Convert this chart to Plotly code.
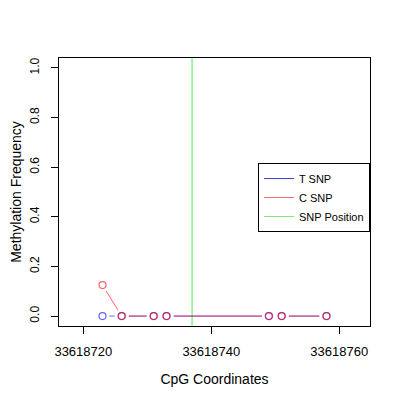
import plotly.graph_objects as go

# CpG positions and methylation frequencies
cpg_pos = [33618723, 33618726, 33618731, 33618733, 33618749, 33618751, 33618758]
t_snp = [0.0, 0.0, 0.0, 0.0, 0.0, 0.0, 0.0]
c_snp = [0.125, 0.0, 0.0, 0.0, 0.0, 0.0, 0.0]
snp_position = 33618737

x_ticks = [33618720, 33618740, 33618760]
y_ticks = [0.0, 0.2, 0.4, 0.6, 0.8, 1.0]

blue = "rgba(0,0,255,0.6)"
red = "rgba(255,0,0,0.6)"
green = "rgba(0,220,0,0.45)"

fig = go.Figure()

# SNP position line
fig.add_trace(go.Scatter(x=[snp_position, snp_position], y=[-0.04, 1.04], mode="lines",
                         line=dict(color=green, width=1.5), showlegend=False, hoverinfo="skip"))

# connecting lines (R type="b" look: gaps at the points)
fig.add_trace(go.Scatter(x=cpg_pos, y=t_snp, mode="lines", line=dict(color=blue, width=1),
                         showlegend=False))
fig.add_trace(go.Scatter(x=cpg_pos, y=c_snp, mode="lines", line=dict(color=red, width=1),
                         showlegend=False))
# white halos to cut the lines
fig.add_trace(go.Scatter(x=cpg_pos + cpg_pos, y=t_snp + c_snp, mode="markers",
                         marker=dict(color="white", size=14, line=dict(width=0)),
                         showlegend=False, hoverinfo="skip"))
fig.add_trace(go.Scatter(x=cpg_pos, y=t_snp, mode="markers",
                         marker=dict(symbol="circle-open", color=blue, size=7, line=dict(width=1.2)),
                         showlegend=False))
fig.add_trace(go.Scatter(x=cpg_pos, y=c_snp, mode="markers",
                         marker=dict(symbol="circle-open", color=red, size=7, line=dict(width=1.2)),
                         showlegend=False))

# legend entries
for name, col in [("T SNP", "rgb(60,60,200)"), ("C SNP", "rgb(240,110,110)"),
                  ("SNP Position", "rgb(120,230,120)")]:
    fig.add_trace(go.Scatter(x=[None], y=[None], mode="lines", name=name,
                             line=dict(color=col, width=1)))

font = dict(family="Liberation Sans, Arial, sans-serif", size=12, color="black")

# margins account for the 8px page margin of the browser
fig.update_layout(
    width=400, height=400,
    margin=dict(l=51, r=38, t=50, b=82),
    paper_bgcolor="white", plot_bgcolor="white",
    font=font,
    showlegend=True,
    legend=dict(x=1, y=0.608, xanchor="right", yanchor="top",
                bordercolor="black", borderwidth=1, bgcolor="white",
                font=dict(size=11), itemwidth=30, tracegroupgap=0),
    xaxis=dict(range=[33618716.2, 33618764.8], tickvals=x_ticks,
               ticktext=[str(v) for v in x_ticks], tickfont=dict(size=13),
               ticks="outside", ticklen=7, tickcolor="black", automargin=False,
               showline=True, linecolor="black", mirror=True, showgrid=False, zeroline=False,
               ticklabelstandoff=6,
               title=dict(text="CpG Coordinates", standoff=16)),
    yaxis=dict(range=[-0.04, 1.04], tickvals=y_ticks,
               ticktext=[f"{v:.1f}" for v in y_ticks], tickangle=-90, tickfont=dict(size=12),
               ticks="outside", ticklen=7, tickcolor="black", automargin=False,
               showline=True, linecolor="black", mirror=True, showgrid=False, zeroline=False,
               ticklabelstandoff=7,
               title=dict(text="Methylation Frequency", standoff=11)),
)

fig.write_html("out.html")
